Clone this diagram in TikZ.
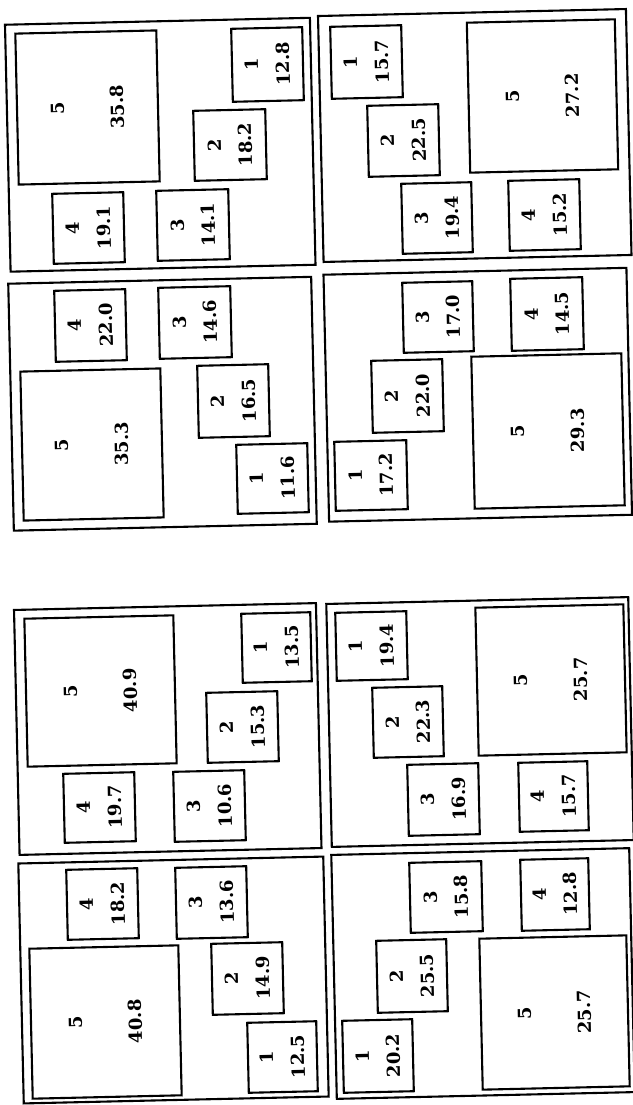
\documentclass[tikz,border=0pt]{standalone}
\usepackage{fontspec}
\setmainfont{DejaVu Serif}
\tikzset{
  panel/.style={draw, line width=2.1pt, rotate=1.3, inner sep=0pt},
  sbox/.style={draw, line width=2.1pt, rotate=91.3, inner sep=0pt, align=center,
    font=\bfseries\fontsize{18}{31}\selectfont},
  bbox/.style={sbox, font=\bfseries\fontsize{18}{60}\selectfont},
}
% #1 name, #2 cx, #3 cy, #4 width in image, #5 height in image, #6 label, #7 value, #8 style
\newcommand\bx[8]{\node[#8, minimum width=#5pt, minimum height=#4pt] (#1) at (#2,#3) {#6\\#7};}
\newcommand\pnl[5]{\node[panel, minimum width=#4pt, minimum height=#5pt] (#1) at (#2,#3) {};}
\begin{document}
\begin{tikzpicture}[x=1pt,y=-1pt]
\useasboundingbox (0,0) rectangle (632,1105);
\fill[white] (0,0) rectangle (632,1105);
% panels
\pnl{pA}{160.25}{144.75}{305}{247}
\pnl{pB}{474.75}{135.5}{308}{246}
\pnl{pC}{162.5}{403.75}{303}{247}
\pnl{pD}{477.75}{394.75}{303}{247}
\pnl{pE}{167.75}{729}{302}{245}
\pnl{pF}{480}{722}{302}{243}
\pnl{pG}{173.5}{980}{305}{240}
\pnl{pH}{483}{973.5}{298}{244}
% panel A
\bx{a5}{87.5}{107.5}{141}{151}{5}{35.8}{bbox}
\bx{a1}{267.5}{64.5}{71}{73}{1}{12.8}{sbox}
\bx{a2}{230}{145}{72}{70}{2}{18.2}{sbox}
\bx{a4}{88.5}{228}{71}{70}{4}{19.1}{sbox}
\bx{a3}{193}{225}{72}{70}{3}{14.1}{sbox}
% panel B
\bx{b1}{366.5}{62}{71}{72}{1}{15.7}{sbox}
\bx{b2}{403.5}{140.5}{71}{71}{2}{22.5}{sbox}
\bx{b5}{542.5}{96}{148}{150}{5}{27.2}{bbox}
\bx{b3}{437}{218}{70}{70}{3}{19.4}{sbox}
\bx{b4}{544.5}{215}{71}{70}{4}{15.2}{sbox}
% panel C
\bx{c4}{90.5}{325.5}{71}{71}{4}{22.0}{sbox}
\bx{c3}{195}{322.5}{72}{71}{3}{14.6}{sbox}
\bx{c5}{92}{444.5}{140}{149}{5}{35.3}{bbox}
\bx{c2}{233.5}{401}{71}{72}{2}{16.5}{sbox}
\bx{c1}{272.5}{478.5}{71}{69}{1}{11.6}{sbox}
% panel D
\bx{d3}{438}{317}{70}{70}{3}{17.0}{sbox}
\bx{d4}{547}{314}{72}{72}{4}{14.5}{sbox}
\bx{d2}{407.5}{396}{71}{72}{2}{22.0}{sbox}
\bx{d5}{548}{431}{150}{152}{5}{29.3}{bbox}
\bx{d1}{371}{475.5}{72}{69}{1}{17.2}{sbox}
% panel E
\bx{e5}{100.5}{691}{149}{148}{5}{40.9}{bbox}
\bx{e1}{276.5}{647.5}{69}{69}{1}{13.5}{sbox}
\bx{e2}{242.5}{727}{71}{70}{2}{15.3}{sbox}
\bx{e4}{99.5}{807.5}{71}{69}{4}{19.7}{sbox}
\bx{e3}{209.5}{806}{71}{70}{3}{10.6}{sbox}
% panel F
\bx{f1}{371.5}{646}{71}{68}{1}{19.4}{sbox}
\bx{f2}{408}{722}{70}{70}{2}{22.3}{sbox}
\bx{f5}{551}{680}{148}{148}{5}{25.7}{bbox}
\bx{f3}{443.5}{799.5}{71}{71}{3}{16.9}{sbox}
\bx{f4}{553.5}{796.5}{69}{69}{4}{15.7}{sbox}
% panel G
\bx{g4}{102.5}{904}{71}{70}{4}{18.2}{sbox}
\bx{g3}{211.5}{902.5}{71}{71}{3}{13.6}{sbox}
\bx{g5}{105.5}{1022}{149}{150}{5}{40.8}{bbox}
\bx{g2}{247.5}{978.5}{71}{71}{2}{14.9}{sbox}
\bx{g1}{282.5}{1057}{69}{70}{1}{12.5}{sbox}
% panel H
\bx{h3}{446}{897}{72}{70}{3}{15.8}{sbox}
\bx{h4}{555}{894.5}{68}{71}{4}{12.8}{sbox}
\bx{h2}{412}{976}{70}{72}{2}{25.5}{sbox}
\bx{h5}{554.5}{1012.5}{147}{151}{5}{25.7}{bbox}
\bx{h1}{378}{1056}{70}{72}{1}{20.2}{sbox}
\end{tikzpicture}
\end{document}
